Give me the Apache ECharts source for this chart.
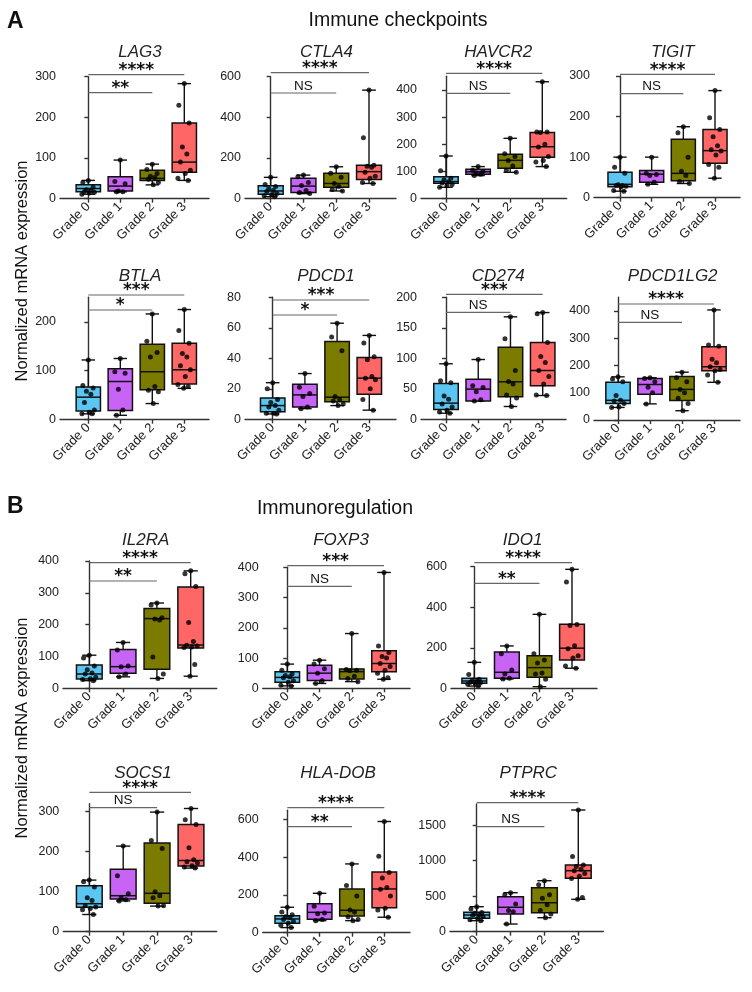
<!DOCTYPE html>
<html><head><meta charset="utf-8">
<script src="https://cdn.jsdelivr.net/npm/echarts@6/dist/echarts.min.js"></script>
<style>html,body{margin:0;padding:0;background:#fff}#c{width:752px;height:992px}</style>
</head><body><div id="c"></div>
<script>
// ---------- DATA ----------
const grades = ['Grade 0', 'Grade 1', 'Grade 2', 'Grade 3'];
const genes = ['LAG3','CTLA4','HAVCR2','TIGIT','BTLA','PDCD1','CD274','PDCD1LG2','IL2RA','FOXP3','IDO1','SOCS1','HLA-DOB','PTPRC'];

// box stats per grade: [min, q1, median, q3, max]
const LAG3_stats = [[11,17,25,34,45],[17,19,31,54,95],[34,45,50,70,85],[45,65,90,186,283]];
const LAG3_points = [[45,40,28,22,20,18,16,14,11],[95,42,37,19,17,17],[85,72,62,55,52,48,40,34],[283,230,186,127,110,90,70,62,50,45]];
const CTLA4_stats = [[10,22,38,64,105],[25,30,62,100,116],[38,56,75,125,157],[75,95,133,165,534]];
const CTLA4_points = [[105,70,60,50,40,35,25,20,15,10],[116,108,80,65,40,30,25],[157,125,105,75,60,45,38],[534,300,165,160,155,130,110,100,80,75]];
const HAVCR2_stats = [[42,57,63,81,157],[85,90,99,108,118],[97,112,141,163,222],[118,152,191,243,430]];
const HAVCR2_points = [[157,103,75,70,62,58,52,48,42],[118,105,100,95,90,85],[222,165,155,140,120,105,97],[430,245,245,243,200,190,155,140,135,118]];
const TIGIT_stats = [[16,27,33,63,100],[33,38,58,67,100],[35,42,60,144,175],[48,85,116,168,264]];
const TIGIT_points = [[100,75,60,32,30,30,28,27,18,16],[100,60,57,55,38,33],[175,160,100,65,55,40,35],[264,197,168,150,128,118,115,105,82,75,48]];
const BTLA_stats = [[12,18,46,67,122],[9,19,78,104,125],[33,61,98,154,216],[64,73,102,156,225]];
const BTLA_points = [[122,70,65,58,52,35,20,15,12,12],[125,98,95,62,20,9],[216,160,137,128,68,60,57,33],[225,182,156,135,128,110,102,88,72,68,64]];
const PDCD1_stats = [[3.5,5,9,14,24],[7,8,16,23,30],[9,11.5,14.5,51,63],[6,16.5,27,40.5,55]];
const PDCD1_points = [[24,20,13,11,9,8,6,4,4,3.5],[30,21,17,15,8,7],[63,54,45,15,13,12,10,9],[55,50,41,39,28,27,26,20,13,6]];
const CD274_stats = [[10,16,26.5,58.5,91],[30,30,49.5,65.5,98],[21,37,61.5,118,168],[39,55,80,126,175]];
const CD274_points = [[91,63,60,38,33,25,20,15,12,10],[98,55,52,45,32,30],[168,132,80,62,58,40,35,21],[175,173,126,103,93,80,70,58,40,39]];
const PDCD1LG2_stats = [[46,60,72,138,158],[59,94,130,152,155],[34,71,112,159,175],[138,180,195,268,403]];
const PDCD1LG2_points = [[158,150,140,90,72,70,60,48,46],[155,152,140,120,100,59],[175,155,140,112,100,80,60,34],[403,275,270,222,210,195,185,180,165,138]];
const IL2RA_stats = [[24,29,45,73,104],[36,47,68,122,144],[31,60,219,251,268],[38,127,136,318,369]];
const IL2RA_points = [[104,95,70,58,48,45,35,30,28,24],[144,120,70,68,45,36],[268,262,222,218,215,98,45,31],[369,360,320,207,147,135,133,130,128,75,38]];
const FOXP3_stats = [[8,20,36,55,80],[16,26,50,76,93],[22,31,55,64,181],[30,55,82,124,383]];
const FOXP3_points = [[80,60,48,42,38,35,25,20,10,8],[93,80,65,50,25,16],[181,62,60,58,40,32,22],[383,140,118,105,100,82,72,60,50,35,30]];
const IDO1_stats = [[11,25,36,49,128],[46,49,79,179,209],[8,54,102,161,365],[99,140,198,316,587]];
const IDO1_points = [[128,68,45,40,35,30,28,25,20,11],[209,170,90,70,50,46],[365,170,140,125,75,70,45,8],[587,525,315,310,210,195,160,150,110,99]];
const SOCS1_stats = [[43,61,70,115,129],[77,82,90,156,214],[64,71,96,222,299],[159,164,178,268,308]];
const SOCS1_points = [[129,125,112,85,78,65,62,58,55,43],[214,140,95,85,80,77],[299,228,208,100,90,85,65,64],[308,280,268,210,180,175,172,165,162,159]];
const HLADOB_stats = [[27,50,73,90,135],[64,71,108,154,209],[64,89,119,232,365],[82,133,232,322,590]];
const HLADOB_points = [[135,110,95,85,80,70,60,50,40,27],[209,140,105,100,70,64],[365,250,195,120,110,85,70,64],[590,405,320,290,240,230,195,130,120,82]];
const PTPRC_stats = [[155,189,235,273,352],[108,249,344,493,549],[197,268,408,620,718],[456,752,859,940,1714]];
const PTPRC_points = [[352,320,270,260,240,230,210,190,170,155],[549,520,390,300,280,108],[718,660,520,470,380,300,250,197],[1714,1060,940,920,880,860,820,780,750,480,456]];

// y-axis ticks and max
const LAG3_ticks = [0,100,200,300], CTLA4_ticks = [0,200,400,600], HAVCR2_ticks = [0,100,200,300,400], TIGIT_ticks = [0,100,200,300];
const BTLA_ticks = [0,100,200], PDCD1_ticks = [0,20,40,60,80], CD274_ticks = [0,50,100,150,200], PDCD1LG2_ticks = [0,100,200,300,400];
const IL2RA_ticks = [0,100,200,300,400], FOXP3_ticks = [0,100,200,300,400], IDO1_ticks = [0,200,400,600];
const SOCS1_ticks = [0,100,200,300], HLADOB_ticks = [0,200,400,600], PTPRC_ticks = [0,500,1000,1500];
const yMax = [300,600,450,300,250,80,200,450,400,400,600,320,650,1800];

// significance comparisons: [fromGrade, toGrade, label]
const LAG3_sig = [[0,3,'****'],[0,2,'**']], CTLA4_sig = [[0,3,'****'],[0,2,'NS']], HAVCR2_sig = [[0,3,'****'],[0,2,'NS']], TIGIT_sig = [[0,3,'****'],[0,2,'NS']];
const BTLA_sig = [[0,3,'***'],[0,2,'*']], PDCD1_sig = [[0,3,'***'],[0,2,'*']], CD274_sig = [[0,3,'***'],[0,2,'NS']], PDCD1LG2_sig = [[0,3,'****'],[0,2,'NS']];
const IL2RA_sig = [[0,3,'****'],[0,2,'**']], FOXP3_sig = [[0,3,'***'],[0,2,'NS']], IDO1_sig = [[0,3,'****'],[0,2,'**']];
const SOCS1_sig = [[0,3,'****'],[0,2,'NS']], HLADOB_sig = [[0,3,'****'],[0,2,'**']], PTPRC_sig = [[0,3,'****'],[0,2,'NS']];

// ---------- LAYOUT (pixels) ----------
// [axisX, grade0X, grade3X, axisEndX, plotTop, plotBottom(y=0), sigUpperY, sigLowerY, titleX, titleY]
const layout = [
  [60, 88.3, 184.3, 209, 76.7, 198.7, 74.7, 92.7, 135, 49],
  [245, 270.7, 369, 396, 76.7, 198.7, 72.7, 93, 321.5, 49],
  [421, 446, 542.3, 566.7, 76.3, 198.7, 73.3, 93.3, 493.3, 49],
  [594, 620, 715, 740, 76, 197.7, 74.3, 93.7, 667.7, 49],
  [60, 88.3, 184.3, 209, 297.3, 419.7, 295, 310, 135, 272.7],
  [245, 272.7, 369.3, 396, 297.3, 419.3, 300, 315, 321, 272.7],
  [421, 446, 542.7, 566, 297.3, 419.3, 294.3, 312.3, 493.3, 272.7],
  [594, 618, 714, 740, 297.1, 420, 304, 322.3, 667.7, 272.7],
  [63, 89.3, 190.7, 216.7, 561, 688.3, 562.7, 581, 140.7, 537],
  [262.7, 287.3, 384, 410, 567.3, 688.3, 565.7, 586.3, 336, 537],
  [451, 474.3, 572, 597, 566.7, 688.3, 562.7, 583.3, 517.5, 537],
  [63.3, 89.3, 191, 216.7, 803.7, 931.7, 792.3, 807.7, 138, 770],
  [262.7, 287.3, 384.3, 410, 810.2, 932.7, 807.7, 826.7, 333, 770],
  [450, 476.7, 578.3, 603.3, 803.9, 931.7, 802.7, 826.7, 523.3, 770]
];

const statsList = [LAG3_stats,CTLA4_stats,HAVCR2_stats,TIGIT_stats,BTLA_stats,PDCD1_stats,CD274_stats,PDCD1LG2_stats,IL2RA_stats,FOXP3_stats,IDO1_stats,SOCS1_stats,HLADOB_stats,PTPRC_stats];
const pointsList = [LAG3_points,CTLA4_points,HAVCR2_points,TIGIT_points,BTLA_points,PDCD1_points,CD274_points,PDCD1LG2_points,IL2RA_points,FOXP3_points,IDO1_points,SOCS1_points,HLADOB_points,PTPRC_points];
const ticksList = [LAG3_ticks,CTLA4_ticks,HAVCR2_ticks,TIGIT_ticks,BTLA_ticks,PDCD1_ticks,CD274_ticks,PDCD1LG2_ticks,IL2RA_ticks,FOXP3_ticks,IDO1_ticks,SOCS1_ticks,HLADOB_ticks,PTPRC_ticks];
const sigList = [LAG3_sig,CTLA4_sig,HAVCR2_sig,TIGIT_sig,BTLA_sig,PDCD1_sig,CD274_sig,PDCD1LG2_sig,IL2RA_sig,FOXP3_sig,IDO1_sig,SOCS1_sig,HLADOB_sig,PTPRC_sig];

const colors = ['#5BC6F2', '#C864F5', '#7B7B00', '#FF6666'];
const FF = '"Liberation Sans", Arial, Helvetica, sans-serif';
const AX = '#333';
const jitter = [0, -0.17, 0.15, -0.06, 0.08, -0.12, 0.19, 0.03, -0.2, 0.12, -0.02];

const chart = echarts.init(document.getElementById('c'), null, {renderer: 'canvas'});

const grid = [], xAxis = [], yAxis = [], series = [], title = [];

genes.forEach((gene, i) => {
  const L = layout[i];
  const sp = (L[2] - L[1]) / 3;
  const xmin = -(L[1] - L[0]) / sp;
  const xmax = 3 + (L[3] - L[2]) / sp;
  grid.push({left: L[0], top: L[4], width: L[3] - L[0], height: L[5] - L[4], containLabel: false});
  xAxis.push({
    gridIndex: i, type: 'value', min: xmin, max: xmax,
    axisLine: {show: true, onZero: false, lineStyle: {color: AX, width: 1.4}},
    axisTick: {show: true, customValues: [0,1,2,3], length: 4, lineStyle: {color: AX, width: 1.4}},
    axisLabel: {show: true, customValues: [0,1,2,3], formatter: v => grades[Math.round(v)], rotate: 45,
      fontSize: 13, color: '#222', margin: 6, fontFamily: FF},
    splitLine: {show: false}
  });
  yAxis.push({
    gridIndex: i, type: 'value', min: 0, max: yMax[i],
    axisLine: {show: true, lineStyle: {color: AX, width: 1.4}},
    axisTick: {show: true, customValues: ticksList[i], length: 4, lineStyle: {color: AX, width: 1.4}},
    axisLabel: {show: true, customValues: ticksList[i], formatter: v => String(v), fontSize: 12.5, color: '#222', margin: 4, fontFamily: FF},
    splitLine: {show: false}
  });
  title.push({text: gene, left: L[8], top: L[9] - 10, textAlign: 'center',
    textStyle: {fontSize: 17, fontStyle: 'italic', fontWeight: 'normal', color: '#222', fontFamily: FF}});

  // boxes
  series.push({
    type: 'custom', xAxisIndex: i, yAxisIndex: i, z: 2,
    data: statsList[i].map((s, g) => [g, s[0], s[1], s[2], s[3], s[4]]),
    encode: {x: 0, y: [1,2,3,4,5]},
    renderItem: (params, api) => {
      const g = api.value(0);
      const x = api.coord([g, 0])[0];
      const s = api.size([1, 0])[0];
      const bw = s * 0.38, cw = s * 0.21;
      const y = [1,2,3,4,5].map(k => api.coord([g, api.value(k)])[1]);
      const ls = {stroke: '#111', lineWidth: 1.4};
      return {type: 'group', children: [
        {type: 'line', shape: {x1: x, y1: y[4], x2: x, y2: y[3]}, style: ls},
        {type: 'line', shape: {x1: x, y1: y[1], x2: x, y2: y[0]}, style: ls},
        {type: 'line', shape: {x1: x - cw, y1: y[4], x2: x + cw, y2: y[4]}, style: ls},
        {type: 'line', shape: {x1: x - cw, y1: y[0], x2: x + cw, y2: y[0]}, style: ls},
        {type: 'rect', shape: {x: x - bw, y: y[3], width: 2 * bw, height: y[1] - y[3]},
          style: {fill: colors[g], stroke: '#111', lineWidth: 1.5}},
        {type: 'line', shape: {x1: x - bw, y1: y[2], x2: x + bw, y2: y[2]}, style: {stroke: '#111', lineWidth: 1.5}}
      ]};
    }
  });

  // points
  const pts = [];
  pointsList[i].forEach((arr, g) => arr.forEach((v, k) => pts.push([g + jitter[k % jitter.length], v])));
  series.push({
    type: 'scatter', xAxisIndex: i, yAxisIndex: i, z: 5, symbol: 'circle', symbolSize: 5,
    itemStyle: {color: '#000'}, data: pts, silent: true
  });

  // significance bars
  series.push({
    type: 'custom', xAxisIndex: i, yAxisIndex: i, z: 6, clip: false,
    data: sigList[i].map((s, k) => [s[0], s[1], k]),
    renderItem: (params, api) => {
      const idx = params.dataIndex;
      const sig = sigList[i][idx];
      const x1 = api.coord([sig[0], 0])[0];
      const x2 = api.coord([sig[1], 0])[0];
      const yy = idx === 0 ? L[6] : L[7];
      const isNS = sig[2] === 'NS';
      return {type: 'group', children: [
        {type: 'line', shape: {x1: x1, y1: yy, x2: x2, y2: yy}, style: {stroke: '#666', lineWidth: 1.2}},
        {type: 'text', style: {
          text: sig[2], x: (x1 + x2) / 2, y: isNS ? yy - 7 : yy - 4,
          fill: '#111', align: 'center', verticalAlign: 'middle',
          textAlign: 'center', textVerticalAlign: 'middle',
          font: isNS ? ('13.5px ' + FF) : ('bold 17px "DejaVu Sans", sans-serif')
        }}
      ]};
    }
  });
});

const graphic = [
  {type: 'text', x: 7, y: 22, style: {text: 'A', font: 'bold 23px ' + FF, fill: '#111', textVerticalAlign: 'middle', verticalAlign: 'middle'}},
  {type: 'text', x: 7, y: 507, style: {text: 'B', font: 'bold 23px ' + FF, fill: '#111', textVerticalAlign: 'middle', verticalAlign: 'middle'}},
  {type: 'text', x: 398, y: 21, style: {text: 'Immune checkpoints', font: '19.5px ' + FF, fill: '#111', textAlign: 'center', align: 'center', textVerticalAlign: 'middle', verticalAlign: 'middle'}},
  {type: 'text', x: 335, y: 508.5, style: {text: 'Immunoregulation', font: '19.5px ' + FF, fill: '#111', textAlign: 'center', align: 'center', textVerticalAlign: 'middle', verticalAlign: 'middle'}},
  {type: 'text', x: 22, y: 271, rotation: Math.PI / 2, style: {text: 'Normalized mRNA expression', font: '16.5px ' + FF, fill: '#111', textAlign: 'center', align: 'center', textVerticalAlign: 'middle', verticalAlign: 'middle'}},
  {type: 'text', x: 22, y: 728, rotation: Math.PI / 2, style: {text: 'Normalized mRNA expression', font: '16.5px ' + FF, fill: '#111', textAlign: 'center', align: 'center', textVerticalAlign: 'middle', verticalAlign: 'middle'}}
];

chart.setOption({
  backgroundColor: '#fff',
  animation: false,
  title: title,
  grid: grid,
  xAxis: xAxis,
  yAxis: yAxis,
  series: series,
  graphic: graphic
});
</script>
</body></html>
